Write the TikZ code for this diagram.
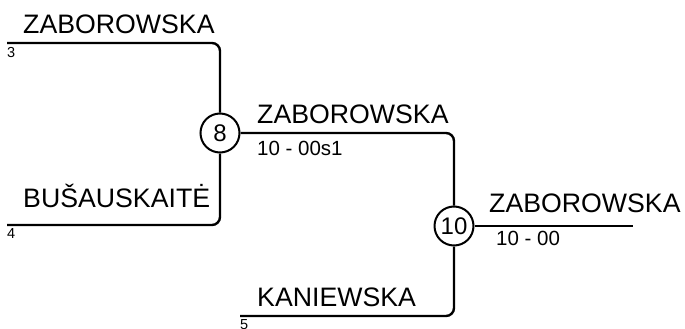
\documentclass[tikz,border=0pt]{standalone}
\usepackage{fontspec}
\setmainfont{Liberation Sans}
\begin{document}
\begin{tikzpicture}[x=1pt,y=1pt,
  player/.style={anchor=base west,inner sep=0pt,font=\fontsize{26.7}{26.7}\selectfont},
  seedlabel/.style={anchor=base west,inner sep=0pt,font=\fontsize{14.5}{14.5}\selectfont},
  scorelabel/.style={anchor=base west,inner sep=0pt,font=\fontsize{20.5}{20.5}\selectfont},
  matchbox/.style={circle,draw,line width=2pt,minimum size=39pt,inner sep=0pt,font=\fontsize{24}{24}\selectfont},
  wire/.style={line width=2.4pt,rounded corners=8pt}]
\useasboundingbox (0,0) rectangle (685,-329);
% match circles
\node[matchbox] (c8) at (220,-133) {8};
\node[matchbox] (c10) at (454,-226) {10};
% line ends
\coordinate (p3) at (7,-43);
\coordinate (p4) at (7,-225);
\coordinate (p5) at (240,-316);
\coordinate (pw) at (633,-226);
% connectors
\draw[wire] (p3) -| (c8.north);
\draw[wire] (p4) -| (c8.south);
\draw[wire] (c8.east) -| (c10.north);
\draw[wire] (p5) -| (c10.south);
\draw[wire] (c10.east) -- (pw);
% names
\node[player] (n3) at (23,-34) {ZABOROWSKA};
\node[player] (n4) at (23,-207) {BUŠAUSKAITĖ};
\node[player] (n8) at (257,-123) {ZABOROWSKA};
\node[player] (n5) at (257,-306) {KANIEWSKA};
\node[player] (n10) at (489,-212) {ZABOROWSKA};
% seeds
\node[seedlabel] (s3) at (7,-57.5) {3};
\node[seedlabel] (s4) at (7,-238.5) {4};
\node[seedlabel] (s5) at (240,-329.5) {5};
% scores
\node[scorelabel] (r8) at (257,-155) {10 - 00s1};
\node[scorelabel] (r10) at (496,-245) {10 - 00};
\end{tikzpicture}
\end{document}
